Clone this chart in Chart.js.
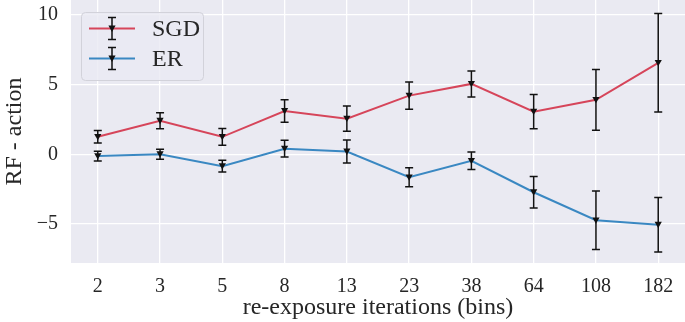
<!DOCTYPE html>
<html><head><meta charset="utf-8">
<script src="https://cdn.jsdelivr.net/npm/chart.js@4/dist/chart.umd.min.js"></script>
<style>html,body{margin:0;padding:0;background:#fff;}#wrap{width:685px;height:322px;position:relative;}</style>
</head><body><div id="wrap"><canvas id="c" width="685" height="322"></canvas></div>
<script>
const categories = ['2','3','5','8','13','23','38','64','108','182'];
const sgdMean = [1.25, 2.4, 1.25, 3.1, 2.55, 4.2, 5.04, 3.05, 3.9, 6.55];
const sgdErr  = [0.45, 0.57, 0.6, 0.8, 0.9, 0.97, 0.93, 1.23, 2.18, 3.53];
const erMean  = [-0.13, 0.0, -0.85, 0.4, 0.2, -1.65, -0.47, -2.72, -4.73, -5.05];
const erErr   = [0.35, 0.36, 0.42, 0.6, 0.82, 0.68, 0.63, 1.13, 2.1, 1.95];
const yTicks = [-5, 0, 5, 10];
const seriesNames = ['SGD', 'ER'];
const seriesColors = ['#d6455a', '#3a88c2'];

const FONT = "'Liberation Serif', 'DejaVu Serif', serif";
const TEXT = '#262626';

const bgPlugin = {
  id: 'bg',
  beforeDraw(chart) {
    const {ctx, chartArea: a} = chart;
    ctx.save();
    ctx.fillStyle = '#eaeaf2';
    ctx.fillRect(a.left, a.top, a.right - a.left, a.bottom - a.top);
    ctx.restore();
  }
};

function drawTri(ctx, x, y, r) {
  ctx.beginPath();
  ctx.moveTo(x - r, y - r * 0.8);
  ctx.lineTo(x + r, y - r * 0.8);
  ctx.lineTo(x, y + r * 0.95);
  ctx.closePath();
  ctx.fill();
}

const errPlugin = {
  id: 'errbars',
  afterDatasetsDraw(chart) {
    const {ctx, scales: {x, y}} = chart;
    const errs = [sgdErr, erErr];
    const means = [sgdMean, erMean];
    ctx.save();
    ctx.strokeStyle = '#111';
    ctx.fillStyle = '#111';
    ctx.lineWidth = 1.5;
    for (let s = 0; s < 2; s++) {
      for (let i = 0; i < categories.length; i++) {
        const px = x.getPixelForValue(i);
        const top = y.getPixelForValue(means[s][i] + errs[s][i]);
        const bot = y.getPixelForValue(means[s][i] - errs[s][i]);
        ctx.beginPath();
        ctx.moveTo(px, top); ctx.lineTo(px, bot);
        ctx.moveTo(px - 4, top); ctx.lineTo(px + 4, top);
        ctx.moveTo(px - 4, bot); ctx.lineTo(px + 4, bot);
        ctx.stroke();
        drawTri(ctx, px, y.getPixelForValue(means[s][i]), 3.6);
      }
    }
    ctx.restore();
  }
};

const legendPlugin = {
  id: 'mylegend',
  afterDraw(chart) {
    const ctx = chart.ctx;
    const a = chart.chartArea;
    const bx = a.left + 10, by = a.top + 12, bw = 122, bh = 68;
    ctx.save();
    ctx.fillStyle = 'rgba(234,234,242,0.8)';
    ctx.strokeStyle = '#d2d2da';
    ctx.lineWidth = 1;
    ctx.beginPath();
    ctx.roundRect(bx + 0.5, by + 0.5, bw, bh, 4);
    ctx.fill(); ctx.stroke();
    for (let s = 0; s < 2; s++) {
      const cy = by + 16.5 + s * 30;
      ctx.strokeStyle = seriesColors[s];
      ctx.lineWidth = 2;
      ctx.beginPath(); ctx.moveTo(bx + 8, cy); ctx.lineTo(bx + 54, cy); ctx.stroke();
      const mx = bx + 31;
      ctx.strokeStyle = '#111'; ctx.fillStyle = '#111'; ctx.lineWidth = 1.5;
      ctx.beginPath();
      ctx.moveTo(mx, cy - 11); ctx.lineTo(mx, cy + 11);
      ctx.moveTo(mx - 4, cy - 11); ctx.lineTo(mx + 4, cy - 11);
      ctx.moveTo(mx - 4, cy + 11); ctx.lineTo(mx + 4, cy + 11);
      ctx.stroke();
      drawTri(ctx, mx, cy, 3.6);
      ctx.fillStyle = TEXT;
      ctx.font = '24px ' + FONT;
      ctx.textBaseline = 'middle';
      ctx.textAlign = 'left';
      ctx.fillText(seriesNames[s], bx + 71, cy + 1);
    }
    ctx.restore();
  }
};

const makeData = (arr) => arr.map((v, i) => ({x: i, y: v}));

new Chart(document.getElementById('c'), {
  type: 'line',
  data: {
    datasets: [
      {label: seriesNames[0], data: makeData(sgdMean), borderColor: seriesColors[0], borderWidth: 2, pointRadius: 0, tension: 0},
      {label: seriesNames[1], data: makeData(erMean), borderColor: seriesColors[1], borderWidth: 2, pointRadius: 0, tension: 0}
    ]
  },
  options: {
    responsive: false,
    animation: false,
    layout: {padding: 0},
    plugins: {legend: {display: false}, tooltip: {enabled: false}},
    scales: {
      x: {
        type: 'linear',
        min: -0.43, max: 9.43,
        afterBuildTicks(scale) { scale.ticks = categories.map((c, i) => ({value: i})); },
        afterFit(scale) { scale.height = 59; scale.paddingLeft = 0; scale.paddingRight = 0; },
        grid: {color: '#ffffff', lineWidth: 1.3, drawTicks: false},
        border: {display: false},
        ticks: {
          autoSkip: false, maxRotation: 0, padding: 12, color: TEXT,
          font: {family: FONT, size: 20},
          callback: (v) => categories[Math.round(v)]
        },
        title: {display: true, text: 're-exposure iterations (bins)', color: TEXT,
          font: {family: FONT, size: 24}, padding: {top: 5, bottom: 0}}
      },
      y: {
        min: -7.79, max: 11.05,
        afterBuildTicks(scale) { scale.ticks = yTicks.map(v => ({value: v})); },
        afterFit(scale) { scale.width = 71; scale.paddingTop = 0; scale.paddingBottom = 0; },
        grid: {color: '#ffffff', lineWidth: 1.3, drawTicks: false},
        border: {display: false},
        ticks: {
          padding: 13, color: TEXT, font: {family: FONT, size: 20},
          callback: (v) => v < 0 ? '\u2212' + Math.abs(v) : String(v)
        },
        title: {display: true, text: 'RF - action', color: TEXT,
          font: {family: FONT, size: 24}, padding: {top: 0, bottom: 0}}
      }
    }
  },
  plugins: [bgPlugin, errPlugin, legendPlugin]
});
</script></body></html>
